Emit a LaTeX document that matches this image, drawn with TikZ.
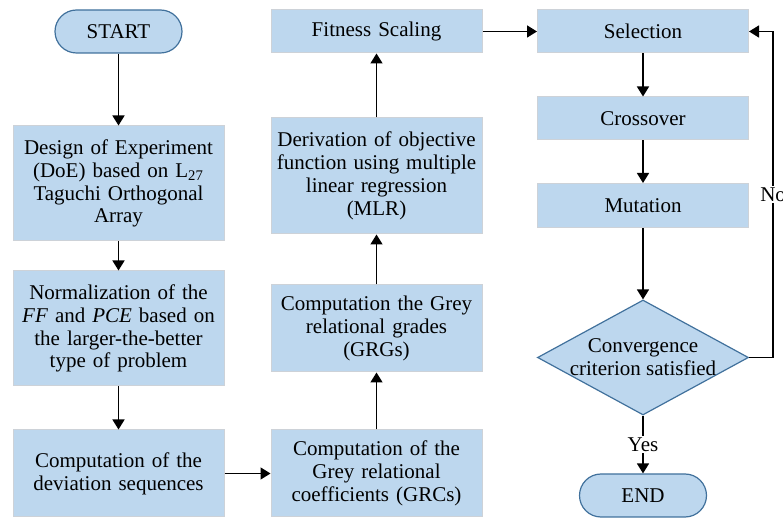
\documentclass[tikz,border=0pt]{standalone}
\usepackage{fontspec}
\setmainfont{Liberation Serif}
\usepackage{tikz}
\usetikzlibrary{arrows.meta,positioning,shapes.geometric}
\usepackage{xcolor}
\definecolor{boxblue}{RGB}{189,215,238}
\definecolor{edgeblue}{RGB}{65,113,156}
\definecolor{boxedge}{RGB}{205,210,216}

\begin{document}
\begin{tikzpicture}[x=0.5pt,y=-0.5pt,
    font=\fontsize{10.5}{11.4}\selectfont,
    stepbox/.style={rectangle,fill=boxblue,draw=boxedge,line width=0.5pt,
      text width=100pt,inner xsep=2.75pt,inner ysep=0pt,align=center,minimum height=#1},
    stepbox/.default=21.5pt,
    terminal/.style={rectangle,rounded corners=10.75pt,fill=boxblue,draw=edgeblue,
      line width=0.6pt,minimum width=63.5pt,minimum height=21.5pt},
    decision/.style={diamond,fill=boxblue,draw=edgeblue,line width=0.6pt,inner sep=0pt,
      minimum width=105.5pt,minimum height=57.5pt},
    flow/.style={-{Triangle[width=6pt,length=5pt]},line width=0.8pt},
    tag/.style={fill=white,inner sep=1pt}]
  \useasboundingbox (0,0) rectangle (783,518);
  \def\colA{118.5}
  \def\colB{376.5}
  \def\colC{643}
  % left column
  \node[terminal] (start) at (\colA,31.5) {START};
  \node[stepbox=57.5pt] (doe) at (\colA,183.5) {Design of Experiment\\(DoE) based on L\textsubscript{27}\\Taguchi Orthogonal\\Array};
  \node[stepbox=57.5pt] (norm) at (\colA,328.5) {Normalization of the\\\textit{FF} and \textit{PCE} based on\\the larger-the-better\\type of problem};
  \node[stepbox=43.5pt] (dev) at (\colA,473.5) {Computation of the\\deviation sequences};
  % middle column
  \node[stepbox=43.5pt] (grc) at (\colB,473.5) {Computation of the\\Grey relational\\coefficients (GRCs)};
  \node[stepbox=43.5pt] (grg) at (\colB,328.5) {Computation the Grey\\relational grades\\(GRGs)};
  \node[stepbox=58pt] (mlr) at (\colB,176) {Derivation of objective\\function using multiple\\linear regression\\(MLR)};
  \node[stepbox] (fit) at (\colB,31.5) {Fitness Scaling};
  % right column (GA loop)
  \node[stepbox] (sel) at (\colC,31.5) {Selection};
  \node[stepbox] (cross) at (\colC,118.5) {Crossover};
  \node[stepbox=22pt] (mut) at (\colC,205.5) {Mutation};
  \node[decision] (conv) at (\colC,357.5) {};
  \node[align=center] (convtxt) at (conv.center) {Convergence\\criterion satisfied};
  \node[terminal] (end) at (\colC,495.5) {END};

  \draw[flow] (start) -- (doe);
  \draw[flow] (doe) -- (norm);
  \draw[flow] (norm) -- (dev);
  \draw[flow] (dev) -- (grc);
  \draw[flow] (grc) -- (grg);
  \draw[flow] (grg) -- (mlr);
  \draw[flow] (mlr) -- (fit);
  \draw[flow] (fit) -- (sel);
  \draw[flow] (sel) -- (cross);
  \draw[flow] (cross) -- (mut);
  \draw[flow] (mut) -- (conv.north);
  \draw[flow] (conv.south) -- node[tag] {Yes} (end);
  \draw[flow] (conv.east) -- ++(24,0) |- node[tag,pos=0.25] {No} (sel.east);
\end{tikzpicture}
\end{document}
